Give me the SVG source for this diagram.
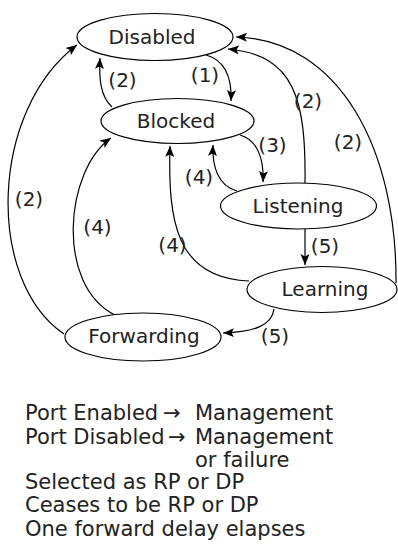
<svg xmlns="http://www.w3.org/2000/svg" width="398" height="553" viewBox="0 0 398 553">
<style>
.node{fill:#fff;stroke:#000;stroke-width:1.2}
.nt{font-family:"DejaVu Sans",Verdana,sans-serif;font-size:20px;fill:#222;text-anchor:middle}
.edge{fill:none;stroke:#000;stroke-width:1.2;marker-end:url(#ah)}
.lbl{font-family:"DejaVu Sans",Verdana,sans-serif;font-size:20px;fill:#222;text-anchor:middle}
.leg{font-family:"DejaVu Sans",Verdana,sans-serif;font-size:21px;fill:#222}
</style>
<defs>
<marker id="ah" markerUnits="userSpaceOnUse" markerWidth="12" markerHeight="10" refX="11" refY="4.5" orient="auto">
<path d="M0,0 L11,4.5 L0,9 L2.5,4.5 z" fill="#000"/>
</marker>
</defs>
<g id="connectors">
<path class="edge" d="M206,55 C224,60 232,76 231,101"/>
<path class="edge" d="M112,107 C100,96 99,78 100,58"/>
<path class="edge" d="M240,135 C258,140 264,160 263,182"/>
<path class="edge" d="M237,191 C218,186 212,166 213,145"/>
<path class="edge" d="M249,281 C175,278 168,220 170,146"/>
<path class="edge" d="M115,315 C55,285 65,170 111,138"/>
<path class="edge" d="M64,334 C-15,280 -10,110 77,45"/>
<path class="edge" d="M305,183 C306,100 295,55 228,49"/>
<path class="edge" d="M396,283 C397,150 340,40 236,37"/>
<path class="edge" d="M305,229 L305,265"/>
<path class="edge" d="M274,309 C272,325 255,332 223,333"/>
<text class="lbl" x="205" y="82">(1)</text>
<text class="lbl" x="122.5" y="87">(2)</text>
<text class="lbl" x="308" y="108">(2)</text>
<text class="lbl" x="348" y="149">(2)</text>
<text class="lbl" x="272.5" y="152">(3)</text>
<text class="lbl" x="199" y="184">(4)</text>
<text class="lbl" x="172.5" y="252">(4)</text>
<text class="lbl" x="97.5" y="234">(4)</text>
<text class="lbl" x="29" y="206">(2)</text>
<text class="lbl" x="325" y="253">(5)</text>
<text class="lbl" x="275" y="343">(5)</text>
</g>
<g id="disabled">
<ellipse class="node" cx="155" cy="37" rx="78" ry="23.5"/>
<text class="nt" x="152" y="44">Disabled</text>
</g>
<g id="blocked">
<ellipse class="node" cx="177.5" cy="121" rx="76.5" ry="22.5"/>
<text class="nt" x="176" y="127.5">Blocked</text>
</g>
<g id="listening">
<ellipse class="node" cx="298.5" cy="206" rx="78" ry="23"/>
<text class="nt" x="298" y="212.5">Listening</text>
</g>
<g id="learning">
<ellipse class="node" cx="322" cy="289.5" rx="75" ry="23"/>
<text class="nt" x="325" y="296">Learning</text>
</g>
<g id="forwarding">
<ellipse class="node" cx="143" cy="337" rx="78" ry="24"/>
<text class="nt" x="144" y="343">Forwarding</text>
</g>
<g id="legend">
<text class="leg" x="25" y="420">Port Enabled<tspan x="163">→</tspan><tspan x="195">Management</tspan></text>
<text class="leg" x="25" y="444">Port Disabled<tspan x="168">→</tspan><tspan x="195">Management</tspan></text>
<text class="leg" x="195" y="467">or failure</text>
<text class="leg" x="25" y="489">Selected as RP or DP</text>
<text class="leg" x="25" y="512">Ceases to be RP or DP</text>
<text class="leg" x="25" y="536">One forward delay elapses</text>
</g>
</svg>
